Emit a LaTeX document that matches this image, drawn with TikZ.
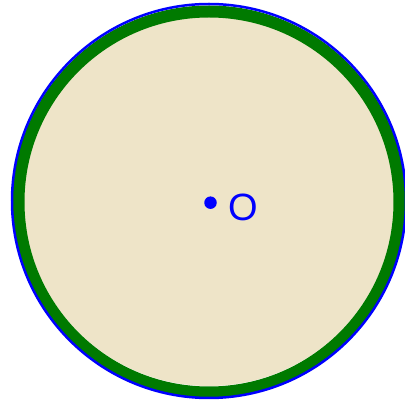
\documentclass[tikz,border=0pt]{standalone}
\usepackage{fontspec}
\setmainfont{Liberation Sans}
\usetikzlibrary{positioning}
\definecolor{discoBeige}{RGB}{238,228,200}
\definecolor{bordeVerde}{RGB}{0,122,0}
\definecolor{azulO}{RGB}{0,0,255}

\begin{document}
\begin{tikzpicture}[x=1pt, y=1pt]
            \useasboundingbox (0,0) rectangle (405,404);
            % FONDO
            \fill[white] (0,0) rectangle (405,404);

            % DISCO
            \fill[discoBeige] (209,203) circle (185);
            % Anillo verde
            \draw[bordeVerde, line width=12pt] (209,202) circle (190.5);
            % Borde azul
            \draw[azulO, line width=2.5pt] (209,203) circle (197);

            % CENTRO Y ETIQUETA
            \node[circle, fill=azulO, inner sep=0pt, minimum size=12.5pt] (punto) at (210.5,201.3) {};
            \node[inner sep=0pt, text=azulO, font=\fontsize{38}{40}\selectfont] (etiqueta) at (243.3,196.5) {O};
        \end{tikzpicture}
\end{document}
